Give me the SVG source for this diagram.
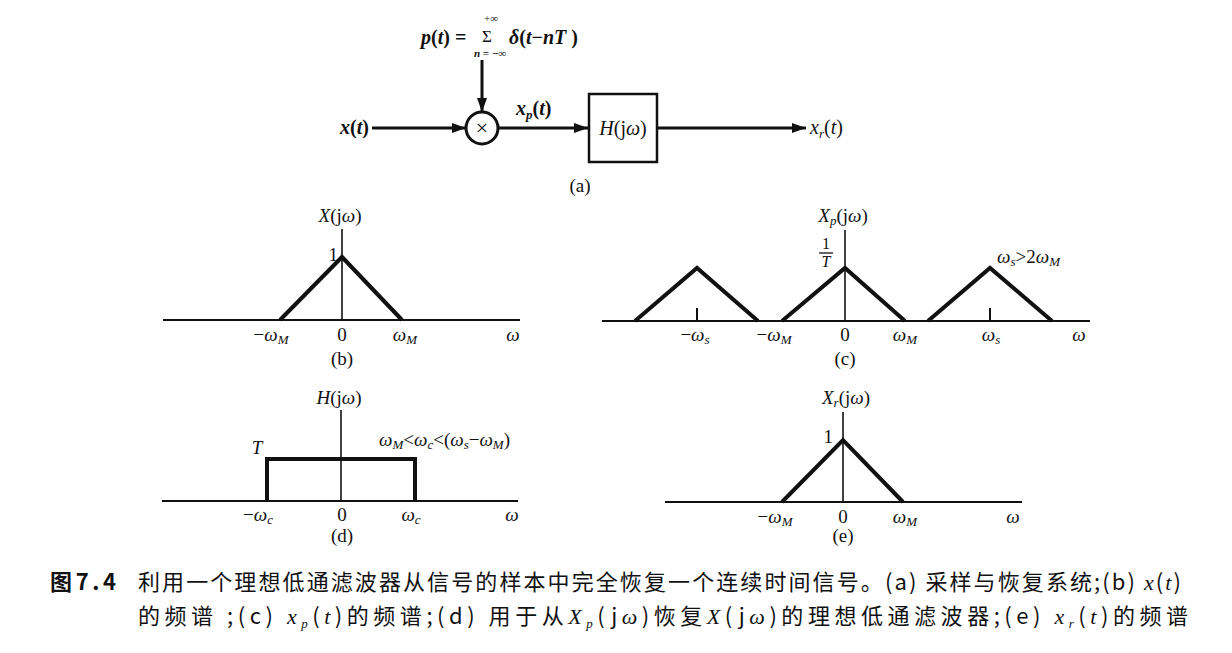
<svg xmlns="http://www.w3.org/2000/svg" width="1232" height="653" viewBox="0 0 1232 653">
<style>
text { font-family: "Liberation Serif", "Noto Sans CJK SC", serif; fill: #111; }
.lb { font-size: 20px; }
.pl { font-size: 19px; text-anchor: middle; }
.it { font-style: italic; }
.sub { font-size: 13px; font-style: italic; }
.axis { stroke: #111; stroke-width: 2; fill: none; }
.vax { stroke: #111; stroke-width: 1.6; fill: none; }
.thick { stroke: #111; stroke-width: 4; fill: none; stroke-linejoin: miter; }
.wire { stroke: #111; stroke-width: 3; fill: none; }
.cap { font-family: "Noto Sans CJK SC", "Liberation Serif", sans-serif; font-size: 22px; }
.lat { font-family: "Liberation Serif", serif; font-style: italic; }
</style>
<defs>
<marker id="ah" viewBox="0 0 14 10" refX="14" refY="5" markerWidth="14" markerHeight="10" markerUnits="userSpaceOnUse" orient="auto">
<path d="M0,0 L14,5 L0,10 Z" fill="#111"/>
</marker>
</defs>
<rect width="1232" height="653" fill="#fff"/>

<!-- (a) block diagram -->
<g id="formula">
<text class="lb" x="421" y="44" font-weight="bold"><tspan class="it">p</tspan>(<tspan class="it">t</tspan>) =</text>
<text x="487" y="42" font-size="17" text-anchor="middle">Σ</text>
<text x="491" y="22" font-size="11" text-anchor="middle">+∞</text>
<text x="490" y="57" font-size="11" text-anchor="middle" font-weight="bold"><tspan class="it">n</tspan> = −∞</text>
<text class="lb" x="509" y="44" font-weight="bold"><tspan class="it">δ</tspan>(<tspan class="it">t</tspan>−<tspan class="it">nT</tspan> )</text>
</g>
<g id="input-label"><text class="lb" x="340" y="134" font-weight="bold"><tspan class="it">x</tspan>(<tspan class="it">t</tspan>)</text></g>
<g id="multiplier">
<circle cx="482" cy="128" r="16" fill="#fff" stroke="#111" stroke-width="3"/>
<text x="482" y="135" font-size="22" text-anchor="middle" font-family="Liberation Sans, sans-serif">×</text>
</g>
<g id="xp-label"><text class="lb" x="516" y="115" font-weight="bold"><tspan class="it">x</tspan><tspan class="sub" dy="4">p</tspan><tspan dy="-4">(</tspan><tspan class="it">t</tspan>)</text></g>
<g id="filter">
<rect x="589" y="94" width="68" height="68" fill="#fff" stroke="#111" stroke-width="2.5"/>
<text class="lb" x="623" y="135" text-anchor="middle"><tspan class="it">H</tspan>(j<tspan class="it">ω</tspan>)</text>
</g>
<g id="output-label"><text class="lb" x="810" y="134"><tspan class="it">x</tspan><tspan class="sub" dy="4">r</tspan><tspan dy="-4">(</tspan><tspan class="it">t</tspan>)</text></g>
<g id="connectors">
<line class="wire" x1="482" y1="60" x2="482" y2="112" marker-end="url(#ah)"/>
<line class="wire" x1="372" y1="128" x2="466" y2="128" marker-end="url(#ah)"/>
<line class="wire" x1="498" y1="128" x2="588" y2="128" marker-end="url(#ah)"/>
<line class="wire" x1="657" y1="128" x2="806" y2="128" marker-end="url(#ah)"/>
</g>
<text x="580" y="192" font-size="19" text-anchor="middle">(a)</text>

<!-- (b) -->
<g id="plot-b">
<line class="axis" x1="163" y1="320" x2="520" y2="320"/>
<line class="vax" x1="342" y1="229" x2="342" y2="320"/>
<polyline class="thick" points="280,320 342,257 402,320"/>
<text class="pl" x="340" y="222"><tspan class="it">X</tspan>(j<tspan class="it">ω</tspan>)</text>
<text x="338" y="261" font-size="19" text-anchor="end">1</text>
<text class="pl" x="271" y="341">−<tspan class="it">ω</tspan><tspan class="sub" dy="3">M</tspan></text>
<text class="pl" x="342" y="341">0</text>
<text class="pl" x="405" y="341"><tspan class="it">ω</tspan><tspan class="sub" dy="3">M</tspan></text>
<text class="pl it" x="513" y="341">ω</text>
<text class="pl" x="342" y="365">(b)</text>
</g>

<!-- (c) -->
<g id="plot-c">
<line class="axis" x1="602" y1="321" x2="1090" y2="321"/>
<line class="vax" x1="845" y1="230" x2="845" y2="321"/>
<polyline class="thick" points="635,321 697,268 758,321"/>
<polyline class="thick" points="782,321 845,268 905,321"/>
<polyline class="thick" points="928,321 990,268 1052,321"/>
<line class="axis" x1="697" y1="308" x2="697" y2="321"/>
<line class="axis" x1="990" y1="308" x2="990" y2="321"/>
<text class="pl" x="843" y="222"><tspan class="it">X</tspan><tspan class="sub" dy="3">p</tspan><tspan dy="-3">(j</tspan><tspan class="it">ω</tspan>)</text>
<text x="826" y="249" font-size="16" text-anchor="middle">1</text>
<line x1="819" y1="253" x2="833" y2="253" stroke="#111" stroke-width="1.3"/>
<text x="826" y="267" font-size="16" text-anchor="middle" class="it">T</text>
<text x="997" y="263" font-size="19"><tspan class="it">ω</tspan><tspan class="sub" dy="3">s</tspan><tspan dy="-3">&gt;2</tspan><tspan class="it">ω</tspan><tspan class="sub" dy="3">M</tspan></text>
<text class="pl" x="695" y="341">−<tspan class="it">ω</tspan><tspan class="sub" dy="3">s</tspan></text>
<text class="pl" x="774" y="341">−<tspan class="it">ω</tspan><tspan class="sub" dy="3">M</tspan></text>
<text class="pl" x="845" y="341">0</text>
<text class="pl" x="905" y="341"><tspan class="it">ω</tspan><tspan class="sub" dy="3">M</tspan></text>
<text class="pl" x="991" y="341"><tspan class="it">ω</tspan><tspan class="sub" dy="3">s</tspan></text>
<text class="pl it" x="1079" y="341">ω</text>
<text class="pl" x="845" y="365">(c)</text>
</g>

<!-- (d) -->
<g id="plot-d">
<line class="axis" x1="162" y1="501" x2="518" y2="501"/>
<line class="vax" x1="341" y1="410" x2="341" y2="501"/>
<polyline class="thick" points="267,501 267,459 415,459 415,501"/>
<text class="pl" x="339" y="404"><tspan class="it">H</tspan>(j<tspan class="it">ω</tspan>)</text>
<text class="pl it" x="257" y="454">T</text>
<text x="379" y="446" font-size="19"><tspan class="it">ω</tspan><tspan class="sub" dy="3">M</tspan><tspan dy="-3">&lt;</tspan><tspan class="it">ω</tspan><tspan class="sub" dy="3">c</tspan><tspan dy="-3">&lt;(</tspan><tspan class="it">ω</tspan><tspan class="sub" dy="3">s</tspan><tspan dy="-3">−</tspan><tspan class="it">ω</tspan><tspan class="sub" dy="3">M</tspan><tspan dy="-3">)</tspan></text>
<text class="pl" x="258" y="521">−<tspan class="it">ω</tspan><tspan class="sub" dy="3">c</tspan></text>
<text class="pl" x="342" y="521">0</text>
<text class="pl" x="411" y="521"><tspan class="it">ω</tspan><tspan class="sub" dy="3">c</tspan></text>
<text class="pl it" x="512" y="521">ω</text>
<text class="pl" x="342" y="542">(d)</text>
</g>

<!-- (e) -->
<g id="plot-e">
<line class="axis" x1="665" y1="502" x2="1022" y2="502"/>
<line class="vax" x1="843" y1="412" x2="843" y2="502"/>
<polyline class="thick" points="782,502 843,440 903,502"/>
<text class="pl" x="846" y="404"><tspan class="it">X</tspan><tspan class="sub" dy="3">r</tspan><tspan dy="-3">(j</tspan><tspan class="it">ω</tspan>)</text>
<text x="833" y="443" font-size="19" text-anchor="end">1</text>
<text class="pl" x="775" y="523">−<tspan class="it">ω</tspan><tspan class="sub" dy="3">M</tspan></text>
<text class="pl" x="843" y="523">0</text>
<text class="pl" x="905" y="523"><tspan class="it">ω</tspan><tspan class="sub" dy="3">M</tspan></text>
<text class="pl it" x="1013" y="523">ω</text>
<text class="pl" x="843" y="542">(e)</text>
</g>

<!-- caption -->
<g id="caption">
<text class="cap" x="50" y="590" textLength="66" lengthAdjust="spacing" font-weight="bold">图7.4</text>
<text class="cap" x="138" y="590" textLength="1043" lengthAdjust="spacing">利用一个理想低通滤波器从信号的样本中完全恢复一个连续时间信号。(a) 采样与恢复系统;(b) <tspan class="lat">x</tspan>(<tspan class="lat">t</tspan>)</text>
<text class="cap" x="138" y="624" textLength="1050" lengthAdjust="spacing">的频谱 ;(c) <tspan class="lat">x</tspan><tspan font-size="13" dy="4" class="lat">p</tspan><tspan dy="-4">(</tspan><tspan class="lat">t</tspan>)的频谱;(d) 用于从<tspan class="lat">X</tspan><tspan font-size="13" dy="4" class="lat">p</tspan><tspan dy="-4">(j</tspan><tspan class="lat">ω</tspan>)恢复<tspan class="lat">X</tspan>(j<tspan class="lat">ω</tspan>)的理想低通滤波器;(e) <tspan class="lat">x</tspan><tspan font-size="13" dy="4" class="lat">r</tspan><tspan dy="-4">(</tspan><tspan class="lat">t</tspan>)的频谱</text>
</g>
</svg>
